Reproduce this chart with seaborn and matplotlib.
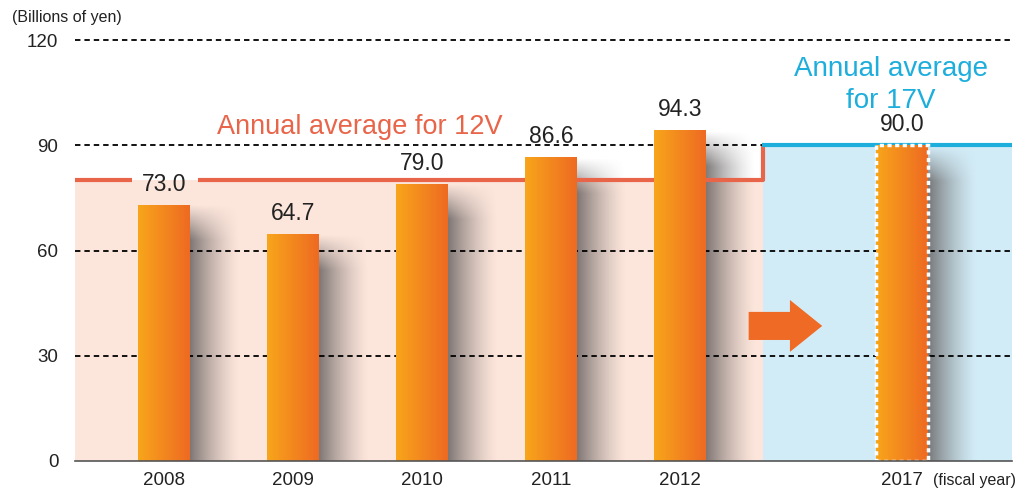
import matplotlib
matplotlib.use("Agg")
import matplotlib.pyplot as plt
import numpy as np
import pandas as pd
import seaborn as sns
from matplotlib.patches import FancyArrow, Rectangle
from matplotlib.colors import to_rgb

# data
years = ["2008", "2009", "2010", "2011", "2012", "2017"]
values = [73.0, 64.7, 79.0, 86.6, 94.3, 90.0]
avg_12v = 80.0
avg_17v = 90.0
yticks = [0, 30, 60, 90, 120]

# layout: slot of each bar on the x axis (there is a gap before 2017)
slots = [0, 1, 2, 3, 4, 5.72]
xmin, xmax = -0.69, 6.57
step_x = 4.64

ORANGE_L = "#F8A51B"
ORANGE_R = "#EE6A22"
RED_LINE = "#E8654A"
BLUE = "#1EAEDC"
PINK_BG = "#FCE5DB"
BLUE_BG = "#D2ECF7"

sns.set_theme(style="white")
plt.rcParams["font.family"] = ["Liberation Sans", "DejaVu Sans"]

fig = plt.figure(figsize=(10.24, 4.91), dpi=100)
ax = fig.add_axes([0.0732, 0.0611, 0.915, 0.8574])

df = pd.DataFrame({"pos": slots, "value": values, "year": years})
sns.barplot(data=df, x="pos", y="value", native_scale=True, width=0.4,
            color=ORANGE_R, errorbar=None, ax=ax, zorder=5)
bars = list(ax.patches)

# backgrounds for the two periods
ax.add_patch(Rectangle((xmin, 0), step_x - xmin, avg_12v, color=PINK_BG, lw=0, zorder=0))
ax.add_patch(Rectangle((step_x, 0), xmax - step_x, avg_17v, color=BLUE_BG, lw=0, zorder=0))

# average lines (gap around the 2008 label)
ax.plot([xmin, slots[0] - 0.25], [avg_12v] * 2, color=RED_LINE, lw=3, zorder=3,
        solid_capstyle="butt")
ax.plot([slots[0] + 0.26, step_x, step_x], [avg_12v, avg_12v, avg_17v],
        color=RED_LINE, lw=3, zorder=3, solid_capstyle="butt")
ax.plot([step_x - 0.01, xmax], [avg_17v] * 2, color=BLUE, lw=3, zorder=4.5,
        solid_capstyle="butt")

# dashed gridlines
for y in yticks[1:]:
    ax.axhline(y, color="black", lw=1.3, ls=(0, (3, 2.2)), zorder=4, clip_on=False)

# gradient fill + soft shadow for every bar
grad = np.zeros((1, 100, 3))
cl, cr = np.array(to_rgb(ORANGE_L)), np.array(to_rgb(ORANGE_R))
for i, t in enumerate(np.linspace(0, 1, 100)):
    grad[0, i] = cl * (1 - t) + cr * t

for i, p in enumerate(bars):
    x0, w, h = p.get_x(), p.get_width(), p.get_height()
    im = ax.imshow(grad, extent=[x0, x0 + w, 0, h], aspect="auto",
                   origin="lower", zorder=5.1, interpolation="bilinear")
    im.set_clip_path(p)
    p.set_facecolor("none")
    p.set_edgecolor("none")

    nx, ny = 60, 120
    sh = np.zeros((ny, nx, 4))
    sh[..., :3] = (0.38, 0.36, 0.36)
    hx = (np.linspace(1, 0, nx) ** 1.4) * 0.8
    yy = np.linspace(0, h, ny)
    vy = np.clip((h - yy) / 10.0, 0, 1)
    sh[..., 3] = vy[:, None] * hx[None, :]
    ax.imshow(sh, extent=[x0 + w, x0 + w + 0.38, 0, h], aspect="auto",
              origin="lower", zorder=2.5, interpolation="bilinear")

# dotted white outline on the planned 2017 bar
bars[-1].set_edgecolor("white")
bars[-1].set_linewidth(2.5)
bars[-1].set_linestyle((0, (1.2, 1.0)))
bars[-1].set_zorder(5.3)

# value labels
for x, v in zip(slots, values):
    ax.annotate(f"{v:.1f}", (x, v), xytext=(0, 15), textcoords="offset points",
                ha="center", va="center", fontsize=16.5, color="#222222", zorder=7)

# arrow towards 17V
ax.add_patch(FancyArrow(4.53, 38.5, 0.57, 0, width=8, head_width=14.8,
                        head_length=0.25, length_includes_head=True,
                        color="#EE6A25", lw=0, zorder=6))

ax.text(1.52, 95.3, "Annual average for 12V", color=RED_LINE, fontsize=19.5,
        ha="center", va="center", zorder=7)
ax.text(5.63, 107.2, "Annual average\nfor 17V", color=BLUE, fontsize=20,
        ha="center", va="center", linespacing=1.3, zorder=7)

ax.set_xticks(slots)
ax.set_xticklabels(years, fontsize=13.5, color="#222222")
ax.set_yticks(yticks)
ax.set_yticklabels([str(t) for t in yticks], fontsize=13.5, color="#222222")
ax.tick_params(length=0, axis="y", pad=12)
ax.tick_params(length=0, axis="x", pad=8)
ax.set_xlim(xmin, xmax)
ax.set_ylim(0, 120)
ax.set_xlabel("")
ax.set_ylabel("")
for s in ["left", "top", "right"]:
    ax.spines[s].set_visible(False)
ax.spines["bottom"].set_color("#555555")
ax.spines["bottom"].set_linewidth(1.2)
ax.spines["bottom"].set_zorder(6)

ax.annotate("(fiscal year)", (6.28, 0), xycoords=("data", "axes fraction"),
            xytext=(0, -14), textcoords="offset points", ha="center", va="center",
            fontsize=11.5, color="#222222")
fig.text(0.012, 0.965, "(Billions of yen)", fontsize=11.5, color="#222222",
         ha="left", va="center")

fig.savefig("out.png", dpi=100)
